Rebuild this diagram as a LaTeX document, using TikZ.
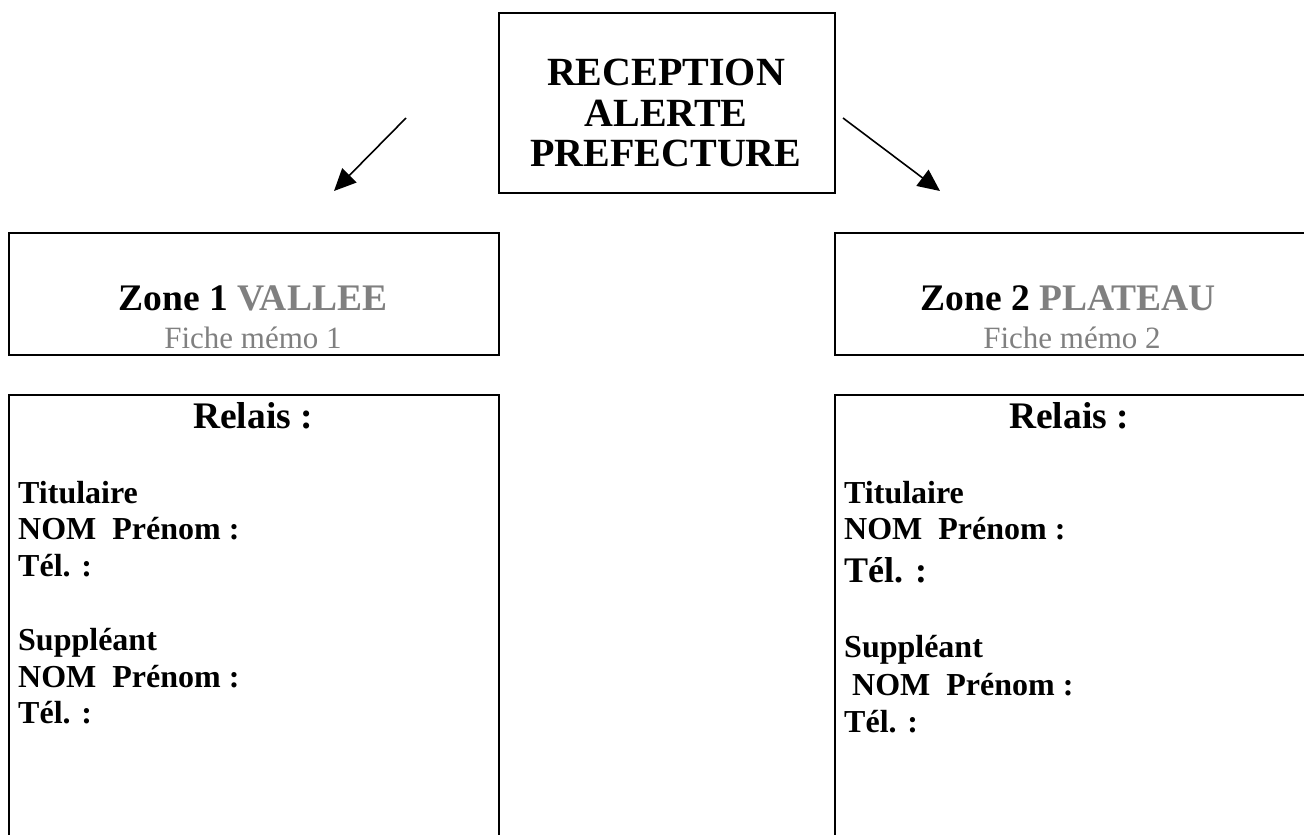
\documentclass[tikz,border=0pt]{standalone}
\usepackage{fontspec}
\setmainfont{Liberation Serif}
\usetikzlibrary{arrows.meta}
\definecolor{memogrey}{HTML}{808080}
\newcommand{\titlefont}{\fontsize{40}{40.5}\selectfont\bfseries}
\newcommand{\headfont}{\fontsize{37.5}{40.5}\selectfont\bfseries}
\newcommand{\bodyfont}{\fontsize{32}{36.7}\selectfont\bfseries}
\newcommand{\memofont}{\fontsize{31}{35}\selectfont}
\begin{document}
\begin{tikzpicture}[x=1pt,y=-1pt,
  frame/.style={draw, line width=2.2pt, rectangle, inner sep=0pt, anchor=north west},
  arr/.style={line width=1.6pt, -{Triangle[length=22pt,width=20pt]}},
  txt/.style={inner sep=0pt, anchor=base},
  line/.style={inner sep=0pt, anchor=base west, font=\bodyfont}]
\useasboundingbox (0,0) rectangle (1304,835);
\clip (0,0) rectangle (1304,835);

% top box: where the alert comes in
\node[frame, minimum width=336pt, minimum height=180pt] (alerte) at (498,12) {};
\node[inner sep=0pt, align=center, font=\titlefont] (alertetxt) at (666,113)
  {RECEPTION\\ALERTE\\PREFECTURE};

% arrows towards the two zones
\coordinate (a1s) at (406,118);
\coordinate (a1e) at (334,191);
\coordinate (a2s) at (843,118);
\coordinate (a2e) at (940,191);
\draw[arr] (a1s) -- (a1e);
\draw[arr] (a2s) -- (a2e);

% zone boxes
\node[frame, minimum width=490pt, minimum height=122pt] (zone1) at (8,232) {};
\node[frame, minimum width=472pt, minimum height=122pt] (zone2) at (834,232) {};
\node[txt, font=\headfont] (z1t) at (253,310.7) {Zone 1 \textcolor{memogrey}{VALLEE}};
\node[txt, font=\memofont, text=memogrey] (z1m) at (253,348) {Fiche mémo 1};
\node[txt, font=\headfont] (z2t) at (1068,310.7) {Zone 2 \textcolor{memogrey}{PLATEAU}};
\node[txt, font=\memofont, text=memogrey] (z2m) at (1072,348) {Fiche mémo 2};

% relay boxes
\node[frame, minimum width=490pt, minimum height=470pt] (relais1) at (8,394) {};
\node[frame, minimum width=472pt, minimum height=470pt] (relais2) at (834,394) {};

\node[txt, font=\headfont] (r1h) at (253,428) {Relais :};
\node[line] (r1a) at (18,503) {Titulaire};
\node[line] (r1b) at (18,539) {NOM\ \ Prénom :};
\node[line] (r1c) at (18,576) {Tél. :};
\node[line] (r1d) at (18,650) {Suppléant};
\node[line] (r1e) at (18,687) {NOM\ \ Prénom :};
\node[line] (r1f) at (18,723) {Tél. :};

\node[txt, font=\headfont] (r2h) at (1069,428) {Relais :};
\node[line] (r2a) at (844,503) {Titulaire};
\node[line] (r2b) at (844,539) {NOM\ \ Prénom :};
\node[line, font=\fontsize{36}{40}\selectfont\bfseries] (r2c) at (844,582) {Tél. :};
\node[line] (r2d) at (844,657) {Suppléant};
\node[line] (r2e) at (852,695) {NOM\ \ Prénom :};
\node[line] (r2f) at (844,732) {Tél. :};
\end{tikzpicture}
\end{document}
